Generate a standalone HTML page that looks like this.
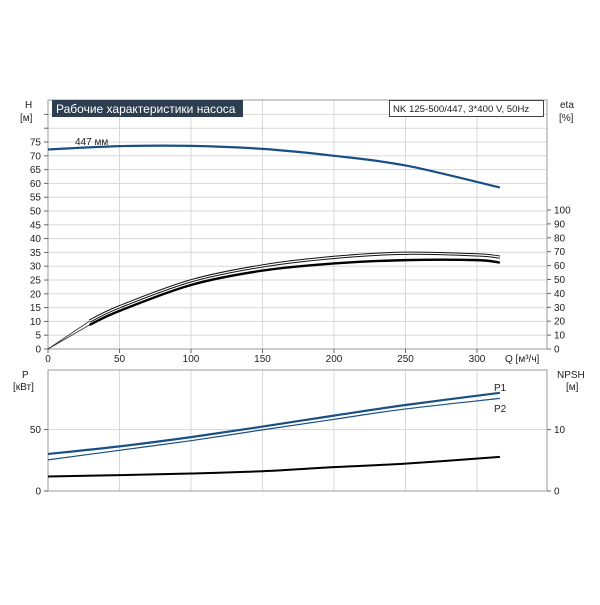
<!DOCTYPE html>
<html><head><meta charset="utf-8"><style>
body{margin:0;background:#fff}
svg text{font-family:"Liberation Sans",sans-serif;font-size:10px;fill:#222}
</style></head><body>
<svg width="600" height="600" id="c"></svg>
<script>
const qTicks=[0,50,100,150,200,250,300];
const hTicks=[0,5,10,15,20,25,30,35,40,45,50,55,60,65,70,75];
const etaTicks=[0,10,20,30,40,50,60,70,80,90,100];
const qH=[0,50,100,150,200,250,316];
const hVals=[72.3,73.5,73.6,72.5,70,66.5,58.5];
const qE=[29,50,100,150,200,250,300,316];
const etaUpper=[10.1,15.3,24.7,30.1,33.2,34.7,34.1,33.3];
const etaLower=[8.7,13.8,23.2,28.4,31,32.2,32.2,31.3];
const qP=[0,50,100,150,200,250,316];
const p1=[30.1,36.3,43.8,52.4,61.3,69.9,79.8];
const p2=[25.3,33.1,40.9,49.7,58.3,66.7,75.3];
const npsh=[2.36,2.58,2.84,3.22,3.88,4.46,5.54];
const NS="http://www.w3.org/2000/svg";
const svg=document.getElementById('c');
function el(t,a,txt){const e=document.createElementNS(NS,t);for(const k in a)e.setAttribute(k,a[k]);if(txt!==undefined)e.textContent=txt;svg.appendChild(e);return e;}
const X=q=>48+q*1.43;
const YH=h=>349-h*2.76;
const YP=p=>491-p*1.23;
const YN=n=>491-n*6.15;
function smooth(xs,ys,fx,fy){const P=xs.map((x,i)=>[fx(x),fy(ys[i])]);let d="M"+P[0][0]+","+P[0][1];for(let i=0;i<P.length-1;i++){const p0=P[i-1]||P[i],p1=P[i],p2=P[i+1],p3=P[i+2]||p2;const c1=[p1[0]+(p2[0]-p0[0])/6,p1[1]+(p2[1]-p0[1])/6],c2=[p2[0]-(p3[0]-p1[0])/6,p2[1]-(p3[1]-p1[1])/6];d+=" C"+c1+" "+c2+" "+p2;}return d;}
for(let h=5;h<=85;h+=5){const l=el('line',{x1:48,x2:547,y1:YH(h),y2:YH(h),stroke:'#d8d8d8'});}
qTicks.forEach(q=>{if(q>0){const l=el('line',{x1:X(q),x2:X(q),y1:100,y2:349,stroke:'#d8d8d8'});}});
const b1=el('rect',{x:48,y:100,width:499,height:249,fill:'none',stroke:'#999'});

for(let h=0;h<=85;h+=5){el('line',{x1:44,x2:48,y1:YH(h),y2:YH(h),stroke:'#666'});}
hTicks.forEach(h=>{const t=el('text',{x:41,y:YH(h)+3.5,'text-anchor':'end'},h);});
etaTicks.forEach(e=>{const y=349-e*1.39;el('line',{x1:547,x2:551,y1:y,y2:y,stroke:'#666'});const t=el('text',{x:554,y:y+3.5},e);});
qTicks.forEach(q=>{el('line',{x1:X(q),x2:X(q),y1:349,y2:353,stroke:'#666'});const t=el('text',{x:X(q),y:362,'text-anchor':'middle'},q);});
let c;
c=el('line',{x1:X(0),y1:YH(0),x2:X(qE[0]),y2:YH(etaUpper[0]),stroke:'#333','stroke-width':0.8});
c=el('line',{x1:X(0),y1:YH(0),x2:X(qE[0]),y2:YH(etaLower[0]),stroke:'#333','stroke-width':0.8});
c=el('path',{d:smooth(qE,etaUpper,X,YH),fill:'none',stroke:'#111','stroke-width':3.2});
c=el('path',{d:smooth(qE,etaUpper,X,YH),fill:'none',stroke:'#fff','stroke-width':1.2});
c=el('path',{d:smooth(qE,etaLower,X,YH),fill:'none',stroke:'#000','stroke-width':2.4});
c=el('path',{d:smooth(qH,hVals,X,YH),fill:'none',stroke:'#1a4f86','stroke-width':2.2});
c=el('line',{x1:48,x2:547,y1:YP(50),y2:YP(50),stroke:'#d8d8d8'});
qTicks.forEach(q=>{if(q>0)el('line',{x1:X(q),x2:X(q),y1:370,y2:491,stroke:'#d8d8d8'});});
const b2=el('rect',{x:48,y:370,width:499,height:121,fill:'none',stroke:'#999'});

[0,50].forEach(p=>{el('line',{x1:44,x2:48,y1:YP(p),y2:YP(p),stroke:'#666'});const t=el('text',{x:41,y:YP(p)+3.5,'text-anchor':'end'},p);});
[0,10].forEach(n=>{el('line',{x1:547,x2:551,y1:YN(n),y2:YN(n),stroke:'#666'});const t=el('text',{x:554,y:YN(n)+3.5},n);});
c=el('path',{d:smooth(qP,p1,X,YP),fill:'none',stroke:'#1a4f86','stroke-width':2.2});
c=el('path',{d:smooth(qP,p2,X,YP),fill:'none',stroke:'#1a4f86','stroke-width':1.2});
c=el('path',{d:smooth(qP,npsh,X,YN),fill:'none',stroke:'#000','stroke-width':2});
</script>
<svg width="600" height="600" style="position:absolute;left:0;top:0">
<text x="25" y="108">H</text>
<text x="20" y="121">[м]</text>
<rect x="52" y="100" width="191" height="17" fill="#2d3e50"/>
<text x="56" y="113" style="font-size:12px;fill:#fff">Рабочие характеристики насоса</text>
<rect x="389.5" y="100.5" width="154" height="16" fill="#fff" stroke="#444"/>
<text x="393" y="112" style="font-size:9.6px">NK 125-500/447, 3*400 V, 50Hz</text>
<text x="560" y="108">eta</text>
<text x="559" y="121">[%]</text>
<text x="75" y="145">447 мм</text>
<text x="505" y="362">Q [м³/ч]</text>
<text x="22" y="378">P</text>
<text x="13" y="390">[кВт]</text>
<text x="557" y="378">NPSH</text>
<text x="566" y="390">[м]</text>
<text x="494" y="391">P1</text>
<text x="494" y="412">P2</text>
</svg>
</body></html>
